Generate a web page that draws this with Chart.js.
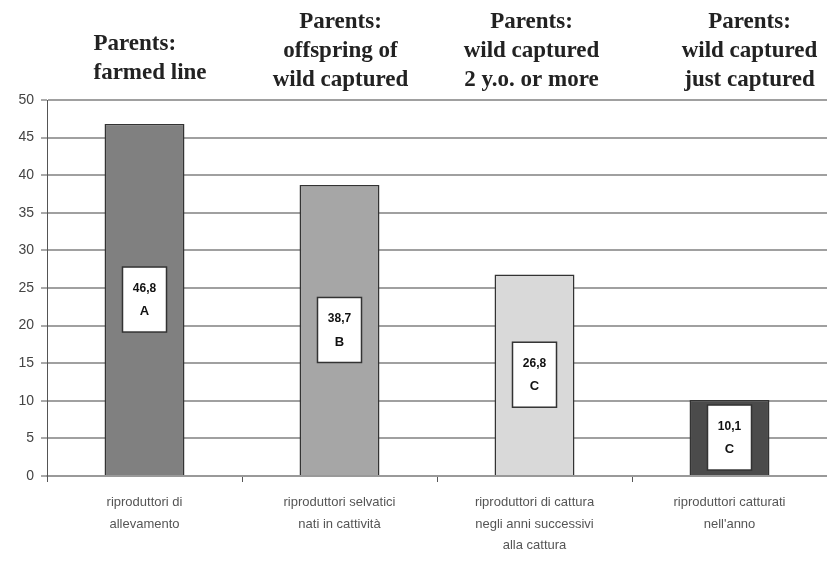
<!DOCTYPE html>
<html>
<head>
<meta charset="utf-8">
<script src="https://cdn.jsdelivr.net/npm/chart.js@4.4.1/dist/chart.umd.min.js"></script>
<style>
  html, body { margin: 0; padding: 0; background: #fff; }
  #wrap { width: 827px; height: 561px; position: relative; }
</style>
</head>
<body>
<div id="wrap"><canvas id="chart"></canvas></div>
<script>
// data
const categories = [
  ['riproduttori di', 'allevamento'],
  ['riproduttori selvatici', 'nati in cattività'],
  ['riproduttori di cattura', 'negli anni successivi', 'alla cattura'],
  ['riproduttori catturati', "nell'anno"]
];
const values = [46.8, 38.7, 26.8, 10.1];
const valueLabels = ['46,8', '38,7', '26,8', '10,1'];
const groupLetters = ['A', 'B', 'C', 'C'];
const headings = [
  ['Parents:', 'farmed line'],
  ['Parents:', 'offspring of', 'wild captured'],
  ['Parents:', 'wild captured', '2 y.o. or more'],
  ['Parents:', 'wild captured', 'just captured']
];
const yMin = 0, yMax = 50, yStep = 5;

const barColors = ['#808080', '#a6a6a6', '#d9d9d9', '#4b4b4b'];

// white boxes with value + group letter in the middle of each bar
const boxLabels = {
  id: 'boxLabels',
  afterDatasetsDraw(chart) {
    const ctx = chart.ctx;
    const meta = chart.getDatasetMeta(0);
    ctx.save();
    meta.data.forEach((bar, i) => {
      const cx = bar.x;
      const cy = (bar.y + bar.base) / 2;
      const w = 44, h = 65;
      ctx.fillStyle = '#fff';
      ctx.fillRect(cx - w / 2, cy - h / 2, w, h);
      ctx.strokeStyle = '#333';
      ctx.lineWidth = 1.5;
      ctx.strokeRect(cx - w / 2, cy - h / 2, w, h);
      ctx.fillStyle = '#111';
      ctx.textAlign = 'center';
      ctx.textBaseline = 'middle';
      ctx.font = 'bold 12px "Liberation Sans", Arial, sans-serif';
      ctx.fillText(valueLabels[i], cx, cy - 11);
      ctx.font = 'bold 13px "Liberation Sans", Arial, sans-serif';
      ctx.fillText(groupLetters[i], cx, cy + 12);
    });
    ctx.restore();
  }
};

// serif headings above each column
const headingPlugin = {
  id: 'headings',
  afterDraw(chart) {
    const ctx = chart.ctx;
    const xs = chart.scales.x;
    const shift = [-51, 1, -3, 20];
    ctx.save();
    ctx.font = 'bold 23px "Liberation Serif", "Times New Roman", serif';
    ctx.fillStyle = '#222';
    ctx.textBaseline = 'middle';
    headings.forEach((lines, i) => {
      const x = xs.getPixelForValue(i) + shift[i];
      ctx.textAlign = i === 0 ? 'left' : 'center';
      const startY = lines.length === 2 ? 44 : 22;
      lines.forEach((t, j) => ctx.fillText(t, x, startY + j * 29));
    });
    ctx.restore();
  }
};

new Chart(document.getElementById('chart'), {
  type: 'bar',
  data: {
    labels: categories,
    datasets: [{
      data: values,
      backgroundColor: barColors,
      borderColor: '#333',
      borderWidth: 1.5,
      barPercentage: 0.41,
      categoryPercentage: 1
    }]
  },
  options: {
    responsive: true,
    maintainAspectRatio: false,
    animation: false,
    layout: { padding: { top: 100, right: 0, left: 0, bottom: 0 } },
    plugins: {
      legend: { display: false },
      tooltip: { enabled: false }
    },
    scales: {
      x: {
        grid: {
          display: true,
          drawOnChartArea: false,
          tickLength: 6,
          tickColor: '#555',
          tickWidth: 1
        },
        border: { color: '#999', width: 2 },
        ticks: {
          color: '#555',
          font: { family: '"Liberation Sans", Arial, sans-serif', size: 13, lineHeight: 1.65 },
          padding: 10,
          maxRotation: 0,
          autoSkip: false
        },
        afterFit(scale) { scale.height = 85; }
      },
      y: {
        min: yMin,
        max: yMax,
        ticks: {
          stepSize: yStep,
          color: '#444',
          font: { family: '"Liberation Sans", Arial, sans-serif', size: 14 },
          padding: 7
        },
        grid: {
          color: '#a0a0a0',
          lineWidth: 2,
          tickLength: 6,
          tickColor: '#555',
          tickWidth: 1
        },
        border: { color: '#555', width: 1 },
        afterFit(scale) { scale.width = 47; }
      }
    }
  },
  plugins: [boxLabels, headingPlugin]
});
</script>
</body>
</html>
